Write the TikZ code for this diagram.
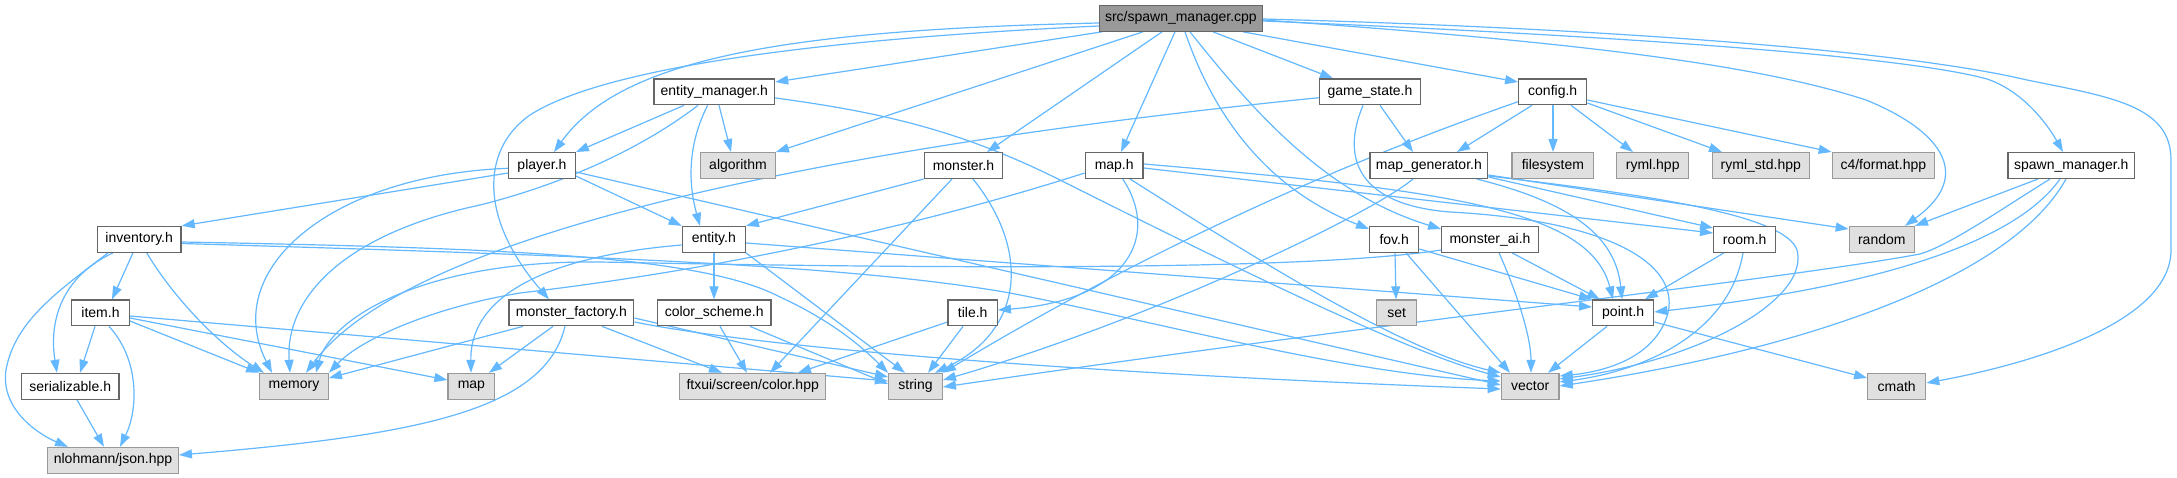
\documentclass[tikz,border=0pt]{standalone}
\usepackage{fontspec}
\setmainfont{Liberation Sans}
\usetikzlibrary{arrows.meta}
\definecolor{edgec}{HTML}{63B8FF}
\definecolor{bord}{HTML}{666666}
\definecolor{sysb}{HTML}{999999}
\definecolor{sysf}{HTML}{E0E0E0}
\definecolor{mainf}{HTML}{999999}
\pgfdeclarelayer{bg}
\pgfdeclarelayer{paper}
\pgfsetlayers{paper,bg,main}
\begin{document}
\begin{tikzpicture}[x=1pt,y=-1pt,
  hn/.style={draw=bord, fill=white, line width=1.3pt, minimum height=25.7pt, inner sep=0pt, font=\fontsize{14}{16}\selectfont, text=black},
  sn/.style={hn, draw=sysb, fill=sysf},
  mn/.style={hn, fill=mainf},
  dep/.style={draw=edgec, line width=1.2pt, -{Triangle[length=13pt,width=9pt]}}]
\begin{pgfonlayer}{paper}
\fill[white] (0,0) rectangle (2177,478);
\end{pgfonlayer}
\useasboundingbox (0,0) rectangle (2177,478);
% nodes
\node[mn, minimum width=162.9pt] (cpp) at (1180.9,18.35) {src/spawn\_manager.cpp};
\node[hn, minimum width=120.5pt] (em) at (714.3,91.85) {entity\_manager.h};
\node[hn, minimum width=100.6pt] (gs) at (1370,91.85) {game\_state.h};
\node[hn, minimum width=68pt] (cfg) at (1552.7,91.85) {config.h};
\node[hn, minimum width=66.6pt] (ply) at (542,165.5) {player.h};
\node[sn, minimum width=74.6pt] (alg) at (738,165.5) {algorithm};
\node[hn, minimum width=78.4pt] (mon) at (963.5,165.5) {monster.h};
\node[hn, minimum width=57.7pt] (maph) at (1114.2,165.5) {map.h};
\node[hn, minimum width=117.7pt] (mg) at (1428.9,165.5) {map\_generator.h};
\node[sn, minimum width=81.7pt] (fs) at (1552.9,165.5) {filesystem};
\node[sn, minimum width=72pt] (ryml) at (1652.7,165.5) {ryml.hpp};
\node[sn, minimum width=97pt] (rymls) at (1760.8,165.5) {ryml\_std.hpp};
\node[sn, minimum width=102pt] (cf) at (1883.3,165.5) {c4/format.hpp};
\node[hn, minimum width=126.7pt] (smh) at (2071.3,165.5) {spawn\_manager.h};
\node[hn, minimum width=83.7pt] (inv) at (139.2,239.35) {inventory.h};
\node[hn, minimum width=63pt] (ent) at (713.8,239.35) {entity.h};
\node[hn, minimum width=49pt] (fov) at (1394.2,239.35) {fov.h};
\node[hn, minimum width=96.6pt] (mai) at (1490,239.35) {monster\_ai.h};
\node[hn, minimum width=62pt] (room) at (1744.7,239.35) {room.h};
\node[sn, minimum width=65pt] (rnd) at (1881.8,239.35) {random};
\node[hn, minimum width=57.6pt] (item) at (100.5,312.85) {item.h};
\node[hn, minimum width=124.7pt] (mf) at (571.4,312.85) {monster\_factory.h};
\node[hn, minimum width=113.7pt] (cs) at (714.2,312.85) {color\_scheme.h};
\node[hn, minimum width=49.3pt] (tile) at (972.7,312.85) {tile.h};
\node[sn, minimum width=40pt] (setn) at (1396.7,312.85) {set};
\node[hn, minimum width=61pt] (pnt) at (1623.2,312.85) {point.h};
\node[hn, minimum width=97.7pt] (ser) at (70.2,386.3) {serializable.h};
\node[sn, minimum width=68.6pt] (mem) at (294,386.3) {memory};
\node[sn, minimum width=46.7pt] (mapn) at (471.4,386.3) {map};
\node[sn, minimum width=146pt] (ftx) at (752.7,386.3) {ftxui/screen/color.hpp};
\node[sn, minimum width=53.6pt] (str) at (915.5,386.3) {string};
\node[sn, minimum width=57.7pt] (vec) at (1530.2,386.3) {vector};
\node[sn, minimum width=58pt] (cmt) at (1896.7,386.3) {cmath};
\node[sn, minimum width=130.6pt] (json) at (113,460.3) {nlohmann/json.hpp};
\begin{pgfonlayer}{bg}
% src/spawn_manager.cpp
\draw[dep] (cpp.south -| 1102,0) -- (em.east |- 0,82);
\draw[dep] (cpp.west |- 0,23) .. controls (780,30) and (620,60) .. (ply.north -| 554,0);
\draw[dep] (cpp.west |- 0,26) .. controls (800,40) and (600,70) .. (530,115) .. controls (480,150) and (480,220) .. (mf.north -| 549,0);
\draw[dep] (cpp.south -| 1143,0) -- (alg.north east);
\draw[dep] (cpp.south -| 1162,0) -- (mon.north -| 987,0);
\draw[dep] (cpp.south -| 1175,0) -- (maph.north -| 1121,0);
\draw[dep] (cpp.south -| 1185,0) .. controls (1215,120) and (1270,190) .. (fov.west |- 0,229);
\draw[dep] (cpp.south -| 1190,0) .. controls (1260,120) and (1330,195) .. (mai.west |- 0,229);
\draw[dep] (cpp.south -| 1213,0) -- (gs.north -| 1333,0);
\draw[dep] (cpp.south -| 1243,0) -- (cfg.west |- 0,82);
\draw[dep] (cpp.east |- 0,21) .. controls (1600,35) and (1900,55) .. (1987,79) .. controls (2020,90) and (2045,120) .. (smh.north -| 2063,0);
\draw[dep] (cpp.east |- 0,20) .. controls (1550,40) and (1750,62) .. (1866,100) .. controls (1940,130) and (1975,175) .. (rnd.north -| 1905,0);
\draw[dep] (cpp.east |- 0,19) .. controls (1600,28) and (1900,50) .. (2027,80) .. controls (2110,97) and (2171,105) .. (2171,160) -- (2171,250) .. controls (2171,320) and (2040,362) .. (cmt.east |- 0,383);
% entity_manager.h
\draw[dep] (em.south -| 684,0) -- (ply.north east);
\draw[dep] (em.south -| 698,0) .. controls (640,150) and (560,185) .. (480,205) .. controls (340,235) and (285,300) .. (mem.north -| 290,0);
\draw[dep] (em.south -| 707.6,0) .. controls (685,150) and (690,190) .. (ent.north -| 700,0);
\draw[dep] (em.south -| 719,0) -- (alg.north -| 731,0);
\draw[dep] (em.east |- 0,98) .. controls (880,112) and (960,130) .. (1060,180) .. controls (1200,250) and (1400,350) .. (vec.west |- 0,377);
% game_state.h
\draw[dep] (gs.west |- 0,97.7) .. controls (900,140) and (420,220) .. (mem.north -| 306,0);
\draw[dep] (gs.south -| 1380,0) -- (mg.north -| 1413,0);
\draw[dep] (gs.south -| 1363,0) .. controls (1340,160) and (1360,205) .. (1450,212) .. controls (1600,220) and (1680,260) .. (1668,313) .. controls (1655,360) and (1600,372) .. (vec.east |- 0,376);
% player.h
\draw[dep] (ply.west |- 0,168.3) .. controls (330,175) and (220,270) .. (mem.north -| 272,0);
\draw[dep] (ply.west |- 0,173) -- (inv.north east);
\draw[dep] (ply.east |- 0,176) -- (ent.north west);
\draw[dep] (ply.east |- 0,172) -- (vec.west |- 0,385);
% inventory.h
\draw[dep] (inv.south -| 133,0) -- (item.north -| 112,0);
\draw[dep] (inv.south -| 146.7,0) .. controls (175,300) and (220,345) .. (mem.north -| 264,0);
\draw[dep] (inv.south -| 113,0) .. controls (55,280) and (50,330) .. (ser.north -| 57,0);
\draw[dep] (inv.south -| 108,0) .. controls (60,290) and (15,320) .. (6,370) .. controls (0,410) and (40,435) .. (json.north -| 68,0);
\draw[dep] (inv.east |- 0,242) .. controls (500,248) and (700,255) .. (780,297) .. controls (830,320) and (860,345) .. (str.north west);
\draw[dep] (inv.east |- 0,243.5) .. controls (600,256) and (850,265) .. (1010,293) .. controls (1150,320) and (1350,375) .. (vec.west |- 0,381);
% item.h
\draw[dep] (item.south -| 95,0) -- (ser.north -| 80,0);
\draw[dep] (item.south -| 109,0) .. controls (140,360) and (138,410) .. (json.north -| 120,0);
\draw[dep] (item.east |- 0,321) -- (mem.north west);
\draw[dep] (item.east |- 0,318) -- (mapn.west |- 0,380);
\draw[dep] (item.east |- 0,316) -- (str.west |- 0,381);
% serializable.h
\draw[dep] (ser.south -| 77,0) -- (json.north -| 104,0);
% entity.h
\draw[dep] (ent.south -| 714,0) -- (cs.north -| 714,0);
\draw[dep] (ent.east |- 0,243) -- (pnt.west |- 0,307);
\draw[dep] (ent.south east) -- (str.north -| 905,0);
\draw[dep] (ent.west |- 0,245) .. controls (560,255) and (470,290) .. (mapn.north -| 471,0);
% monster.h
\draw[dep] (mon.south west) -- (ent.north east);
\draw[dep] (mon.south -| 952,0) -- (ftx.north -| 770,0);
\draw[dep] (mon.south -| 973,0) .. controls (1030,250) and (1025,330) .. (str.north -| 935,0);
% map.h
\draw[dep] (maph.west |- 0,173) .. controls (900,232) and (700,272) .. (520,293) .. controls (430,308) and (360,340) .. (mem.north east);
\draw[dep] (maph.south -| 1122.7,0) .. controls (1160,235) and (1130,300) .. (tile.east |- 0,310);
\draw[dep] (maph.south -| 1130,0) .. controls (1250,255) and (1400,350) .. (vec.north west);
\draw[dep] (maph.east |- 0,168) -- (room.west |- 0,233);
\draw[dep] (maph.east |- 0,164) .. controls (1450,190) and (1590,210) .. (pnt.north -| 1613,0);
% map_generator.h
\draw[dep] (mg.south -| 1413,0) .. controls (1370,215) and (1150,320) .. (str.east |- 0,380);
\draw[dep] (mg.south -| 1476.7,0) .. controls (1560,200) and (1615,230) .. (pnt.north -| 1622,0);
\draw[dep] (mg.east |- 0,177) -- (room.west |- 0,228);
\draw[dep] (mg.east |- 0,175) -- (rnd.west |- 0,229);
\draw[dep] (mg.east |- 0,176) .. controls (1650,195) and (1785,215) .. (1797,250) .. controls (1810,300) and (1700,360) .. (vec.east |- 0,379);
% config.h
\draw[dep] (cfg.west |- 0,101.7) .. controls (1380,150) and (1180,230) .. (str.north east);
\draw[dep] (cfg.south -| 1532,0) -- (mg.north -| 1457,0);
\draw[dep] (cfg.south -| 1553,0) -- (fs.north -| 1553,0);
\draw[dep] (cfg.south -| 1571,0) -- (ryml.north -| 1633,0);
\draw[dep] (cfg.east |- 0,103) -- (rymls.north -| 1722,0);
\draw[dep] (cfg.east |- 0,100) -- (cf.north west);
% fov.h
\draw[dep] (fov.south -| 1395,0) -- (setn.north -| 1396,0);
\draw[dep] (fov.south -| 1406,0) -- (vec.north -| 1510,0);
\draw[dep] (fov.east |- 0,249) -- (pnt.north west);
% monster_ai.h
\draw[dep] (mai.west |- 0,250) .. controls (1300,272) and (900,268) .. (600,262) .. controls (420,260) and (330,320) .. (mem.north -| 316,0);
\draw[dep] (mai.south -| 1499,0) .. controls (1520,300) and (1531,340) .. (vec.north -| 1531,0);
\draw[dep] (mai.south -| 1512,0) -- (pnt.north -| 1600,0);
% room.h
\draw[dep] (room.south -| 1724,0) -- (pnt.north -| 1645,0);
\draw[dep] (room.south -| 1743,0) .. controls (1730,330) and (1650,370) .. (vec.east |- 0,382);
% point.h
\draw[dep] (pnt.south -| 1607,0) -- (vec.north -| 1548,0);
\draw[dep] (pnt.east |- 0,322) -- (cmt.west |- 0,378);
% spawn_manager.h
\draw[dep] (smh.south -| 2038,0) -- (rnd.north east);
\draw[dep] (smh.south -| 2050,0) .. controls (2000,210) and (1950,245) .. (1920,254) .. controls (1780,280) and (1400,320) .. (str.east |- 0,387);
\draw[dep] (smh.south -| 2060,0) .. controls (2010,250) and (1850,290) .. (pnt.east |- 0,312);
\draw[dep] (smh.south -| 2066,0) .. controls (2010,280) and (1800,350) .. (vec.east |- 0,386);
% monster_factory.h
\draw[dep] (mf.south -| 523,0) -- (mem.east |- 0,378);
\draw[dep] (mf.south -| 553,0) -- (mapn.north -| 489,0);
\draw[dep] (mf.south -| 565,0) .. controls (545,410) and (420,435) .. (json.east |- 0,455);
\draw[dep] (mf.south -| 602,0) -- (ftx.north -| 722,0);
\draw[dep] (mf.east |- 0,318) -- (str.west |- 0,377);
\draw[dep] (mf.east |- 0,322) .. controls (800,355) and (1200,378) .. (vec.west |- 0,389);
% color_scheme.h
\draw[dep] (cs.south -| 720,0) -- (ftx.north -| 747,0);
\draw[dep] (cs.south -| 750,0) -- (str.west |- 0,384);
% tile.h
\draw[dep] (tile.west |- 0,322) -- (ftx.north -| 798,0);
\draw[dep] (tile.south -| 963,0) -- (str.north -| 928,0);
\end{pgfonlayer}
\end{tikzpicture}
\end{document}
